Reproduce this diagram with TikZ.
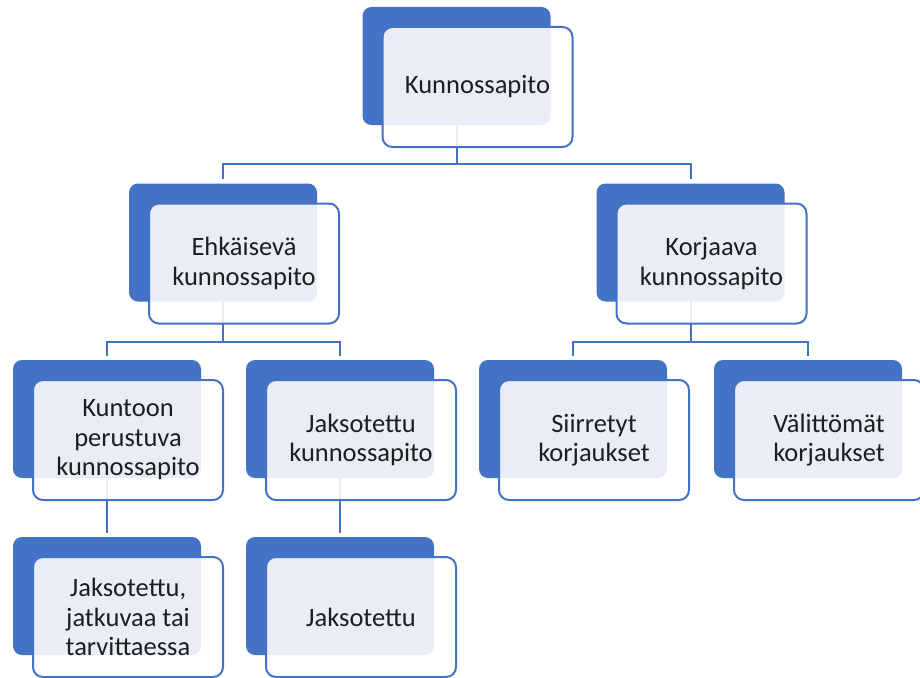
\documentclass[tikz,border=0pt]{standalone}
\usepackage{fontspec}
\setmainfont{Carlito}
\usetikzlibrary{positioning}
\definecolor{offblue}{HTML}{4472C4}
\definecolor{txtgray}{HTML}{1E1E1E}
\begin{document}
\begin{tikzpicture}[x=1pt,y=-1pt,
	back/.style={fill=offblue,rounded corners=9pt,minimum width=188pt,minimum height=118pt,inner sep=0pt},
	front/.style={draw=offblue,line width=2pt,fill=white,fill opacity=0.88,text opacity=1,
		rounded corners=10pt,minimum width=190pt,minimum height=120pt,inner sep=0pt,
		align=center,text=txtgray,font=\fontsize{26.5}{29.5}\selectfont},
	conn/.style={draw=offblue,line width=2pt}]
\useasboundingbox (0,0) rectangle (920,677);
\def\dx{21}
\def\dy{21}
% back boxes
\node[back] (kp) at (456.5,66) {};
\node[back] (ehk) at (223,242.5) {};
\node[back] (kor) at (690.5,242.5) {};
\node[back] (kun) at (107,419) {};
\node[back] (jak) at (340,419) {};
\node[back] (sii) at (573,419) {};
\node[back] (val) at (808,419) {};
\node[back] (jat) at (107,596) {};
\node[back] (jak2) at (340,596) {};
\coordinate (bar1) at (0,164);
\coordinate (bar2) at (0,342);
% connectors
\draw[conn] (kp.south) -- (kp.south |- bar1);
\draw[conn] ([yshift=4pt]ehk.north) |- (kp.south |- bar1) -| ([yshift=4pt]kor.north);
\draw[conn] (ehk.south) -- (ehk.south |- bar2);
\draw[conn] ([yshift=4pt]kun.north) |- (ehk.south |- bar2) -| ([yshift=4pt]jak.north);
\draw[conn] (kor.south) -- (kor.south |- bar2);
\draw[conn] ([yshift=4pt]sii.north) |- (kor.south |- bar2) -| ([yshift=4pt]val.north);
\draw[conn] (kun.south) -- ([yshift=4pt]jat.north);
\draw[conn] (jak.south) -- ([yshift=4pt]jak2.north);
% front boxes
\node[front] (kp-f) at ([shift={(\dx,\dy)}]kp.center) {Kunnossapito};
\node[front] (ehk-f) at ([shift={(\dx,\dy)}]ehk.center) {Ehkäisevä\\kunnossapito};
\node[front] (kor-f) at ([shift={(\dx,\dy)}]kor.center) {Korjaava\\kunnossapito};
\node[front] (kun-f) at ([shift={(\dx,\dy)}]kun.center) {Kuntoon\\perustuva\\kunnossapito};
\node[front] (jak-f) at ([shift={(\dx,\dy)}]jak.center) {Jaksotettu\\kunnossapito};
\node[front] (sii-f) at ([shift={(\dx,\dy)}]sii.center) {Siirretyt\\korjaukset};
\node[front] (val-f) at ([shift={(\dx,\dy)}]val.center) {Välittömät\\korjaukset};
\node[front] (jat-f) at ([shift={(\dx,\dy)}]jat.center) {Jaksotettu,\\jatkuvaa tai\\tarvittaessa};
\node[front] (jak2-f) at ([shift={(\dx,\dy)}]jak2.center) {Jaksotettu};
\end{tikzpicture}
\end{document}
